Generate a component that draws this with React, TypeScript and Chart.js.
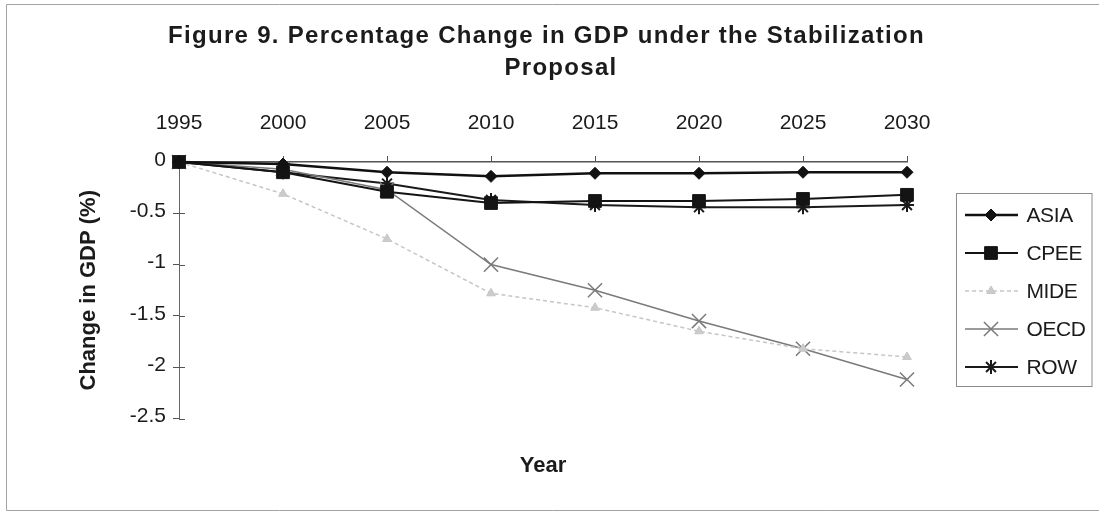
import { useEffect, useRef } from 'react';
import { Chart, registerables } from 'chart.js';
import { drawPoint } from 'chart.js/helpers';

Chart.register(...registerables);

const FONT = "'Liberation Sans', Arial, Helvetica, sans-serif";
const INK = '#1b1b1b';

// Years on the category axis
const years = ['1995', '2000', '2005', '2010', '2015', '2020', '2025', '2030'];

// Change in GDP (%) by region
const asia = [0, -0.02, -0.1, -0.14, -0.11, -0.11, -0.1, -0.1];
const cpee = [0, -0.1, -0.29, -0.4, -0.38, -0.38, -0.36, -0.32];
const mide = [0, -0.31, -0.75, -1.28, -1.42, -1.65, -1.82, -1.9];
const oecd = [0, -0.07, -0.27, -1.0, -1.25, -1.55, -1.82, -2.12];
const row = [0, -0.1, -0.21, -0.37, -0.42, -0.44, -0.44, -0.42];

// Value axis range
const yMin = -2.5;
const yMax = 0;
const yStep = 0.5;

const titleLines = ['Figure 9. Percentage Change in GDP under the Stabilization', 'Proposal'];
const yTitle = 'Change in GDP (%)';
const xTitle = 'Year';

const figureDecor = {
  id: 'figureDecor',
  beforeDraw(chart: any) {
    const { ctx, width } = chart;
    ctx.save();
    ctx.fillStyle = '#ffffff';
    ctx.fillRect(0, 0, chart.width, chart.height);
    // figure frame
    ctx.strokeStyle = '#a3a3a3';
    ctx.lineWidth = 1;
    ctx.beginPath();
    ctx.moveTo(width, 4.5);
    ctx.lineTo(6.5, 4.5);
    ctx.lineTo(6.5, 510.5);
    ctx.lineTo(width, 510.5);
    ctx.stroke();
    ctx.restore();
  },
  beforeDatasetsDraw(chart: any) {
    // inner half of the cross tick marks on the value axis
    const { ctx, chartArea } = chart;
    const y = chart.scales.y;
    ctx.save();
    ctx.strokeStyle = '#555555';
    ctx.lineWidth = 1;
    ctx.beginPath();
    y.ticks.forEach((t: any) => {
      const py = Math.round(y.getPixelForValue(t.value)) + 0.5;
      ctx.moveTo(chartArea.left, py);
      ctx.lineTo(chartArea.left + 6, py);
    });
    ctx.stroke();
    ctx.restore();
  },
  afterDraw(chart: any) {
    const { ctx, chartArea } = chart;

    // chart title, two lines
    ctx.save();
    ctx.letterSpacing = '1.3px';
    ctx.fillStyle = INK;
    ctx.font = `bold 24px ${FONT}`;
    ctx.textAlign = 'center';
    ctx.textBaseline = 'alphabetic';
    ctx.fillText(titleLines[0], 546.5, 42.7);
    ctx.fillText(titleLines[1], 561, 75);
    ctx.restore();

    // boxed legend to the right of the plot
    const boxLeft = chartArea.right + 49.5;
    ctx.save();
    ctx.strokeStyle = '#8c8c8c';
    ctx.lineWidth = 1;
    ctx.strokeRect(boxLeft, 193.5, 135.5, 193);
    ctx.restore();

    chart.data.datasets.forEach((ds: any, i: number) => {
      const cy = 215 + i * 38;
      ctx.save();
      ctx.strokeStyle = ds.borderColor;
      ctx.lineWidth = ds.borderWidth;
      ctx.setLineDash(ds.borderDash || []);
      ctx.beginPath();
      ctx.moveTo(boxLeft + 8.5, cy);
      ctx.lineTo(boxLeft + 61.5, cy);
      ctx.stroke();
      ctx.setLineDash([]);
      ctx.fillStyle = ds.pointBackgroundColor;
      ctx.strokeStyle = ds.pointBorderColor;
      ctx.lineWidth = ds.pointBorderWidth;
      drawPoint(
        ctx,
        { pointStyle: ds.pointStyle, radius: ds.pointRadius, rotation: 0, borderWidth: ds.pointBorderWidth },
        boxLeft + 34.5,
        cy
      );
      ctx.fillStyle = INK;
      ctx.font = `21px ${FONT}`;
      ctx.letterSpacing = '-0.4px';
      ctx.textAlign = 'left';
      ctx.textBaseline = 'middle';
      ctx.fillText(ds.label, boxLeft + 70, cy + 1);
      ctx.restore();
    });
  },
};

export default function App() {
  const canvasRef = useRef<HTMLCanvasElement | null>(null);

  useEffect(() => {
    if (!canvasRef.current) return;
    Chart.defaults.font.family = FONT;
    Chart.defaults.color = INK;

    const chart = new Chart(canvasRef.current, {
      type: 'line',
      data: {
        labels: years,
        datasets: [
          {
            label: 'ASIA',
            data: asia,
            borderColor: '#111111',
            borderWidth: 2.5,
            pointStyle: 'rectRot',
            pointRadius: 6,
            pointBackgroundColor: '#111111',
            pointBorderColor: '#111111',
            pointBorderWidth: 1,
            clip: false,
          },
          {
            label: 'CPEE',
            data: cpee,
            borderColor: '#141414',
            borderWidth: 2,
            pointStyle: 'rect',
            pointRadius: 9,
            pointBackgroundColor: '#141414',
            pointBorderColor: '#141414',
            pointBorderWidth: 1,
            clip: false,
          },
          {
            label: 'MIDE',
            data: mide,
            borderColor: '#c6c6c6',
            borderWidth: 1.5,
            borderDash: [4, 3],
            pointStyle: 'triangle',
            pointRadius: 5,
            pointBackgroundColor: '#cbcbcb',
            pointBorderColor: '#c6c6c6',
            pointBorderWidth: 1,
            clip: false,
          },
          {
            label: 'OECD',
            data: oecd,
            borderColor: '#7a7a7a',
            borderWidth: 1.5,
            pointStyle: 'crossRot',
            pointRadius: 10,
            pointBackgroundColor: '#7a7a7a',
            pointBorderColor: '#7a7a7a',
            pointBorderWidth: 1.5,
            clip: false,
          },
          {
            label: 'ROW',
            data: row,
            borderColor: '#1a1a1a',
            borderWidth: 2,
            pointStyle: 'star',
            pointRadius: 7,
            pointBackgroundColor: '#1a1a1a',
            pointBorderColor: '#1a1a1a',
            pointBorderWidth: 2,
            clip: false,
          },
        ],
      },
      options: {
        responsive: false,
        animation: false,
        devicePixelRatio: 1,
        layout: { padding: { left: 6, right: 192, top: 0, bottom: 0 } },
        plugins: {
          legend: { display: false },
          title: { display: false },
          tooltip: { enabled: false },
        },
        elements: { line: { tension: 0 } },
        scales: {
          x: {
            type: 'category',
            position: 'top',
            offset: false,
            grid: { display: true, drawOnChartArea: false, drawTicks: true, tickLength: 6, color: '#555555' },
            border: { display: true, color: '#555555', width: 1.5 },
            ticks: { font: { size: 21 }, color: INK, padding: 20, maxRotation: 0, autoSkip: false },
            afterFit: (s: any) => {
              s.height = 162;
            },
          },
          x2: {
            type: 'category',
            position: 'bottom',
            offset: false,
            grid: { display: false },
            border: { display: false },
            ticks: { display: false },
            title: { display: true, text: xTitle, font: { size: 22, weight: 'bold' }, color: INK, padding: { top: 0, bottom: 34 } },
            afterFit: (s: any) => {
              s.height = 513 - 418.5;
            },
          },
          y: {
            type: 'linear',
            position: 'left',
            min: yMin,
            max: yMax,
            grid: { display: true, drawOnChartArea: false, drawTicks: true, tickLength: 6, color: '#555555' },
            border: { display: true, color: '#666666', width: 1 },
            ticks: {
              stepSize: yStep,
              font: { size: 21 },
              color: INK,
              padding: 7,
              labelOffset: -2,
              callback: (v: any) => String(v),
            },
            title: { display: true, text: yTitle, font: { size: 22, weight: 'bold' }, color: INK, padding: { top: 70, bottom: 0 } },
            afterFit: (s: any) => {
              s.width = 173;
            },
          },
        },
      },
      plugins: [figureDecor],
    } as any);

    return () => chart.destroy();
  }, []);

  return (
    <div style={{ position: 'absolute', left: 0, top: 0, width: 1099, height: 513 }}>
      <canvas ref={canvasRef} width={1099} height={513} style={{ display: 'block' }} />
    </div>
  );
}
